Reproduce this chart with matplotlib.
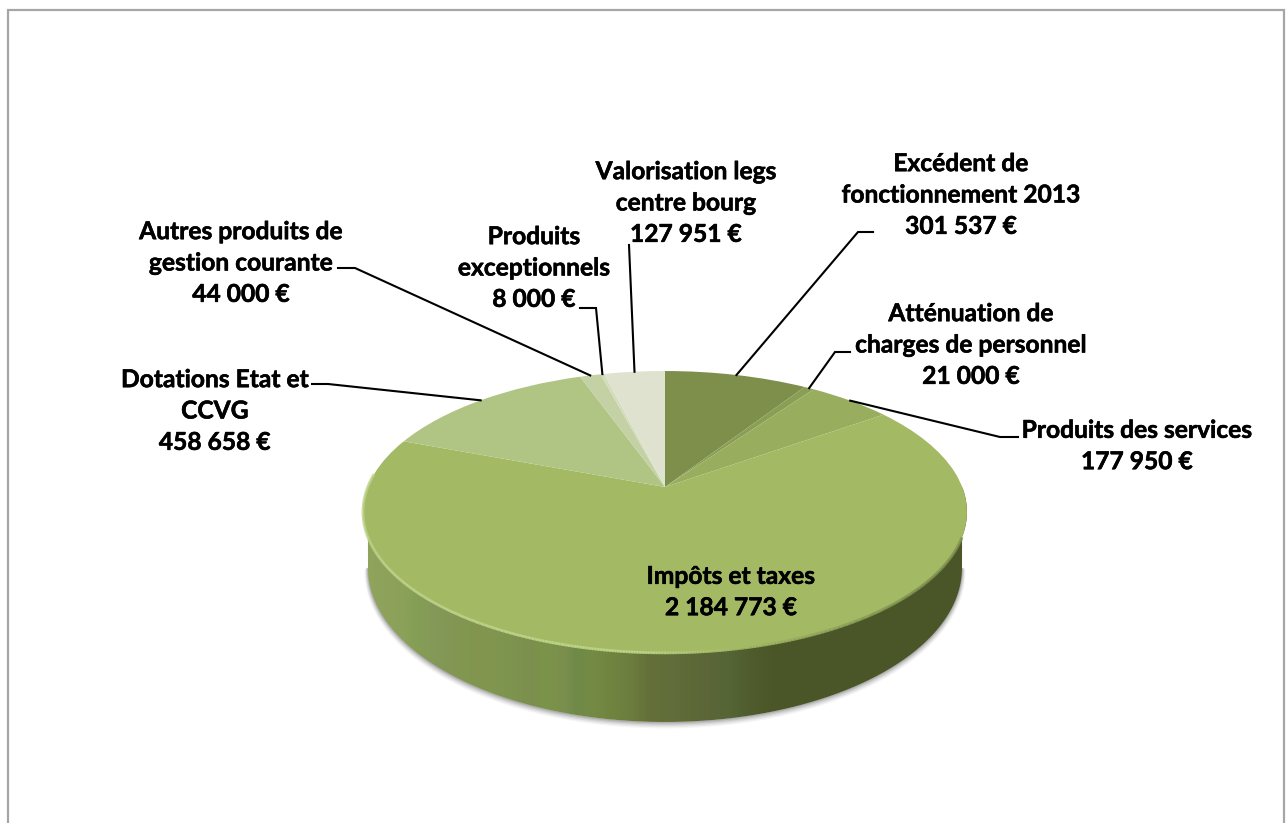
import numpy as np
import matplotlib
matplotlib.use("Agg")
import matplotlib.pyplot as plt
import matplotlib.patheffects as pe
from matplotlib.transforms import Transform
from matplotlib.path import Path
from matplotlib.patches import PathPatch, Rectangle
from matplotlib.collections import LineCollection
from matplotlib.colors import LinearSegmentedColormap, to_rgb

# ---- data -----------------------------------------------------------------
categories = ["Excédent de\nfonctionnement 2013", "Atténuation de\ncharges de personnel",
              "Produits des services", "Impôts et taxes", "Dotations Etat et\nCCVG",
              "Autres produits de\ngestion courante", "Produits\nexceptionnels",
              "Valorisation legs\ncentre bourg"]
values = [301537, 21000, 177950, 2184773, 458658, 44000, 8000, 127951]
value_labels = ["301 537 €", "21 000 €", "177 950 €", "2 184 773 €", "458 658 €",
                "44 000 €", "8 000 €", "127 951 €"]
colors = ["#7e8e4b", "#8a9e54", "#99ad5f", "#a3b964", "#b0c583", "#c3d1a5", "#d3dcbb", "#dfe2cf"]

# ---- layout (pixels) -------------------------------------------------------
W, H = 1288, 823
label_pos = [(961, 195), (971, 345), (1137, 446), (731, 592), (215, 411),
             (241, 263), (534, 268), (686, 203)]
leader_elbows = [[(873, 232), (858, 232)], [(850, 352), (835, 352)], [(1018, 437), (1000, 437)],
                 None, [(312, 384), (328, 384)], [(338, 268), (355, 268)],
                 [(580, 308), (596, 308)], [(629, 245)]]
FONT = "Lato"
FS = 17.7
LINE = 1.44

CX, CY = 665, 487     # apex
PA, PB, PR = 0.177, 136.5, 297.2   # perspective of the top face


class Perspective(Transform):
    input_dims = output_dims = 2
    is_separable = False
    has_inverse = False

    def __init__(self, cx, cy, r, b, a):
        super().__init__()
        self.p = (cx, cy, r, b, a)

    def transform_non_affine(self, xy):
        cx, cy, r, b, a = self.p
        xy = np.asarray(xy, float)
        d = 1 + a * xy[:, 1]
        return np.column_stack([cx + r * xy[:, 0] / d, cy - b * xy[:, 1] / d])


fig = plt.figure(figsize=(W / 100, H / 100), dpi=100, facecolor="white")
ax = fig.add_axes([0, 0, 1, 1])
top = Perspective(CX, CY, PR, PB, PA)

# frame of the original chart area
ax.add_patch(Rectangle((8, 10), 1276, 900, fc="white", ec="#a6a6a6", lw=1.6, zorder=0))

t = np.linspace(0, 2 * np.pi, 1441)
top_xy = top.transform_non_affine(np.column_stack([np.cos(t), np.sin(t)]))
xl, xr = top_xy[:, 0].min(), top_xy[:, 0].max()

# bottom outline of the wall
BOT = dict(cx=665, cy=568, rx=297, ry=154)
s = np.linspace(np.pi, 0, 361)
bot_x = BOT["cx"] + BOT["rx"] * np.cos(s)
bot_y = BOT["cy"] + BOT["ry"] * np.sin(s)

# soft shadow under the wall
for grow, alpha in [(5, .05), (4, .07), (3, .09), (2, .12), (1, .16)]:
    ax.plot(bot_x, bot_y + grow * 0.6, color="#404040", lw=grow, alpha=alpha, zorder=1,
            solid_capstyle="round")

# wall: horizontal gradient clipped to the region between the two outlines
wall_x = [363, 405, 412, 435, 470, 490, 500, 530, 545, 565, 575, 595, 610, 630, 650, 670, 690,
          710, 730, 750, 775, 967]
wall_col = ["#90a45d", "#8ba059", "#85a055", "#849858", "#81964f", "#82954f", "#7e9650", "#7c8f4e",
            "#7a9448", "#7b8e4e", "#6f8a48", "#748a44", "#70843f", "#6c7e3f", "#646f39", "#626e3b",
            "#5d6a38", "#5b6537", "#556535", "#505c2e", "#4a5628", "#4a5628"]
wall_pos = [(x - wall_x[0]) / (wall_x[-1] - wall_x[0]) for x in wall_x]
cmap = LinearSegmentedColormap.from_list("wall", list(zip(wall_pos, wall_col)), N=1024)
im = ax.imshow(np.linspace(0, 1, 1024)[None, :], cmap=cmap, extent=(wall_x[0], wall_x[-1], 740, 360),
               aspect="auto", zorder=2, interpolation="bilinear")
# top-face front arc, ordered left to right along the angle (pi -> 2 pi)
front = top_xy[(t >= np.pi) & (t <= 2 * np.pi)]
wall_verts = np.vstack([np.column_stack([bot_x, bot_y]), front[::-1]])
clip = PathPatch(Path(wall_verts), transform=ax.transData, fc="none", ec="none")
ax.add_patch(clip)
im.set_clip_path(clip)

# top face: slices from the values
wedges, _ = ax.pie(values, colors=colors, startangle=90, counterclock=False,
                   wedgeprops=dict(linewidth=0))
for w in wedges:
    w.set_transform(top + ax.transData)
    w.set_clip_on(False)
    w.set_zorder(3)
ax.set_aspect("auto")
ax.set_xlim(0, W)
ax.set_ylim(H, 0)
ax.set_position([0, 0, 1, 1])
ax.axis("off")

# bevel along the front rim
rim = top_xy[(t >= np.pi - 0.1) & (t <= 2 * np.pi - 0.35)]
segs = np.stack([rim[:-1], rim[1:]], axis=1)
fr = (segs[:, 0, 0] - xl) / (xr - xl)
c_l, c_m, c_d = np.array(to_rgb("#bdd387")), np.array(to_rgb("#a3b964")), np.array(to_rgb("#7f9050"))
rim_cols = []
for f in fr:
    if f < .45:
        rim_cols.append(c_l)
    elif f < .62:
        rim_cols.append(c_l + (c_m - c_l) * (f - .45) / .17)
    else:
        rim_cols.append(c_m + (c_d - c_m) * min((f - .62) / .3, 1))
ax.add_collection(LineCollection(segs, colors=rim_cols, linewidths=2.0, zorder=4, capstyle="butt"))

# leaders, ending on the rim at each slice's middle angle
total = sum(values)
cum = np.cumsum([0] + values)
mid = (cum[:-1] + cum[1:]) / 2 / total * 2 * np.pi
for m, elbow in zip(mid, leader_elbows):
    if elbow is None:
        continue
    end = top.transform_non_affine(np.array([[np.sin(m), np.cos(m)]]))[0]
    pts = np.array(list(elbow) + [tuple(end)])
    ax.plot(pts[:, 0], pts[:, 1], color="black", lw=1.5, zorder=5, solid_joinstyle="miter")

# labels
for cat, val, (x, y) in zip(categories, value_labels, label_pos):
    ax.text(x, y, f"{cat}\n{val}", ha="center", va="center", ma="center", family=FONT,
            fontweight="bold", fontsize=FS, color="black", linespacing=LINE, zorder=6,
            path_effects=[pe.withStroke(linewidth=0.4, foreground="black")])

fig.savefig("out.png", dpi=100)
